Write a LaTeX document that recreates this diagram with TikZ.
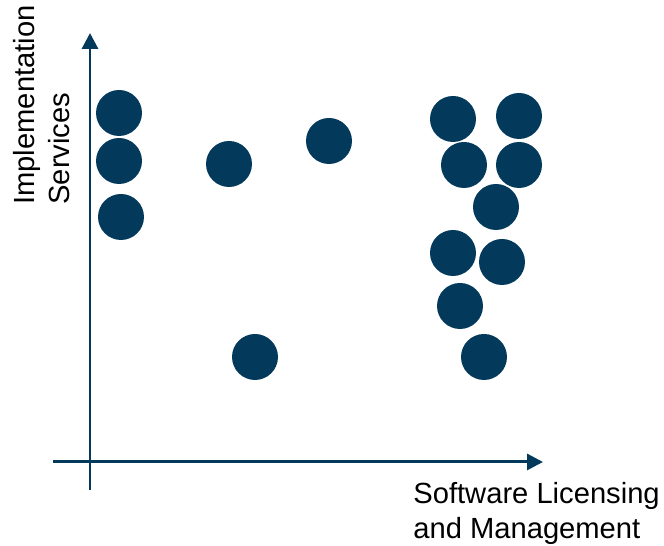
\documentclass[tikz,border=0pt]{standalone}
\usepackage{fontspec}
\setmainfont{Liberation Sans}
\usepackage{xcolor}
\definecolor{navy}{HTML}{033A5C}
\usepackage{tikz}
\usetikzlibrary{arrows.meta}

\begin{document}
\begin{tikzpicture}[
  x=0.02cm, y=-0.02cm,
  font=\fontsize{16.6pt}{20.2pt}\selectfont,
  dot/.style={circle, fill=navy, draw=none, inner sep=0pt, minimum size=0.92cm},
  axis/.style={-{Triangle[length=0.32cm, width=0.32cm]}, navy, line width=0.06cm},
  axislabel/.style={inner sep=0pt, align=left, text=black}
]
  \useasboundingbox (0,0) rectangle (664,546);

  % axes
  \coordinate (ybot)   at (90,490);
  \coordinate (ytop)   at (90,33);
  \coordinate (xleft)  at (53,462);
  \coordinate (xright) at (543,462);
  \draw[axis] (ybot) -- (ytop);
  \draw[axis] (xleft) -- (xright);

  \node[axislabel, rotate=90, anchor=north west] (ylab) at (13,205)
    {Implementation\\Services};
  \node[axislabel, anchor=north west] (xlab) at (413,482)
    {Software Licensing\\and Management};

  % data points
  \node[dot] (p1)  at (119,113) {};
  \node[dot] (p2)  at (119,161) {};
  \node[dot] (p3)  at (121,217) {};
  \node[dot] (p4)  at (229,164) {};
  \node[dot] (p5)  at (329,141) {};
  \node[dot] (p6)  at (255,357) {};
  \node[dot] (p7)  at (453,119) {};
  \node[dot] (p8)  at (519,116) {};
  \node[dot] (p9)  at (464,165) {};
  \node[dot] (p10) at (519,165) {};
  \node[dot] (p11) at (496,207) {};
  \node[dot] (p12) at (453,253) {};
  \node[dot] (p13) at (502,262) {};
  \node[dot] (p14) at (460,306) {};
  \node[dot] (p15) at (484,357) {};
\end{tikzpicture}
\end{document}
